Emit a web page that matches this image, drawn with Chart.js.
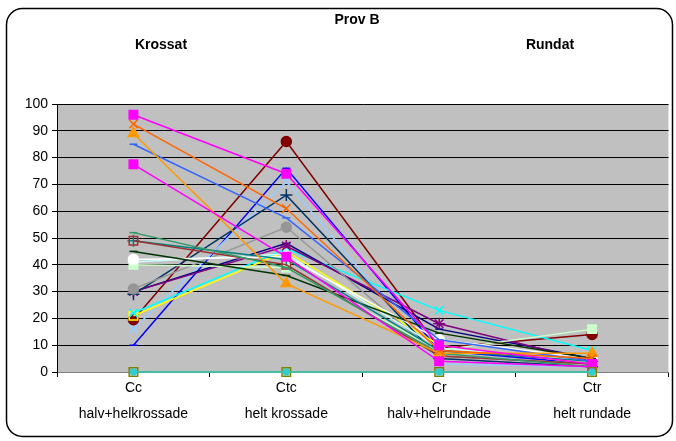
<!DOCTYPE html>
<html>
<head>
<meta charset="utf-8">
<script src="https://cdn.jsdelivr.net/npm/chart.js@4"></script>
<style>
  body { margin: 0; background: #fff; }
  #wrap { width: 676px; height: 441px; }
</style>
</head>
<body>
<div id="wrap"><canvas id="chart" width="676" height="441"></canvas></div>
<script>
const categories = [["Cc", "halv+helkrossade"], ["Ctc", "helt krossade"], ["Cr", "halv+helrundade"], ["Ctr", "helt rundade"]];
const yTicks = [0, 10, 20, 30, 40, 50, 60, 70, 80, 90, 100];

// one array per sample: Cc, Ctc, Cr, Ctr
const s01 = [96, 74, 10, 3];
const s02 = [77.5, 43, 4, 2];
const s03 = [92.5, 61, 8, 5];
const s04 = [89, 33, 7, 7];
const s05 = [85, 57.5, 12, 4];
const s06 = [52, 39, 7, 2];
const s07 = [49, 40, 6, 3];
const s08 = [49, 42, 8, 4];
const s09 = [45, 36, 14.5, 5];
const s10 = [42, 43, 12, 5];
const s11 = [40, 39, 8, 16];
const s12 = [41, 44, 9, 4];
const s13 = [31, 54, 6, 3];
const s14 = [29, 66, 5, 2];
const s15 = [30, 47, 18, 4];
const s16 = [30, 48, 16, 5];
const s17 = [22, 46, 23, 8];
const s18 = [21, 45, 10, 3];
const s19 = [19.5, 86, 9, 14];
const s20 = [16, 71, 3, 2];
const s21 = [10, 76, 8, 3];
const s22 = [0, 0, 0, 0];
const s23 = [0, 0, 0, 0];

// chart.js paints the first dataset on top
const series = [
  { data: s22, color: "#33CCCC", style: "circle", fill: true, r: 3 },
  { data: s23, color: "#808000", style: "rect", fill: false, r: 6 },
  { data: s01, color: "#FF00FF", style: "rect", fill: true, r: 6 },
  { data: s02, color: "#FF00FF", style: "rect", fill: true, r: 6 },
  { data: s03, color: "#FF6600", style: "crossRot", fill: false, r: 6 },
  { data: s04, color: "#FF9900", style: "triangle", fill: true, r: 6 },
  { data: s05, color: "#3366FF", style: "line", fill: true, r: 4 },
  { data: s06, color: "#339966", style: "line", fill: true, r: 4 },
  { data: s07, color: "#993333", style: "rect", fill: false, r: 6 },
  { data: s08, color: "#008080", style: "cross", fill: false, r: 6 },
  { data: s09, color: "#003300", style: "line", fill: true, r: 4 },
  { data: s10, color: "#FFFFFF", style: "circle", fill: true, r: 5 },
  { data: s11, color: "#CCFFCC", style: "rect", fill: true, r: 6 },
  { data: s12, color: "#CCFFFF", style: "rectRot", fill: true, r: 5 },
  { data: s13, color: "#969696", style: "circle", fill: true, r: 5 },
  { data: s14, color: "#003366", style: "cross", fill: false, r: 6 },
  { data: s15, color: "#800080", style: "star", fill: false, r: 6 },
  { data: s16, color: "#000080", style: "line", fill: true, r: 4 },
  { data: s17, color: "#00FFFF", style: "crossRot", fill: false, r: 6 },
  { data: s18, color: "#FFFF00", style: "rect", fill: false, r: 6 },
  { data: s19, color: "#800000", style: "circle", fill: true, r: 5 },
  { data: s20, color: "#99CCFF", style: "crossRot", fill: false, r: 6 },
  { data: s21, color: "#0000FF", style: "line", fill: true, r: 4 }
];

const frame = {
  id: "frame",
  beforeDraw(chart) {
    const { ctx, chartArea: a } = chart;
    ctx.save();
    ctx.fillStyle = "#C0C0C0";
    ctx.fillRect(a.left, a.top, a.right - a.left, a.bottom - a.top);
    ctx.restore();
  },
  afterDraw(chart) {
    const ctx = chart.ctx;
    ctx.save();
    ctx.strokeStyle = "#000";
    ctx.lineWidth = 1.5;
    ctx.beginPath();
    ctx.roundRect(6.5, 8.5, 666, 428, 16);
    ctx.stroke();
    ctx.fillStyle = "#000";
    ctx.font = "bold 14px 'Liberation Sans', Arial, sans-serif";
    ctx.textAlign = "center";
    ctx.textBaseline = "middle";
    ctx.fillText("Prov B", 357, 20);
    ctx.fillText("Krossat", 161, 45);
    ctx.fillText("Rundat", 550, 45);
    ctx.restore();
  }
};

new Chart(document.getElementById("chart"), {
  type: "line",
  data: {
    labels: categories,
    datasets: series.map((s, i) => ({
      label: "Prov " + (i + 1),
      data: s.data,
      borderColor: s.color,
      backgroundColor: s.fill ? s.color : "rgba(0,0,0,0)",
      borderWidth: 1.5,
      pointStyle: s.style,
      pointRadius: s.r,
      pointBorderWidth: 1.5,
      pointBorderColor: s.color,
      pointBackgroundColor: s.fill ? s.color : "rgba(0,0,0,0)",
      tension: 0,
      clip: false
    }))
  },
  options: {
    responsive: false,
    animation: false,
    layout: { padding: { left: 0, right: 4, top: 104, bottom: 9 } },
    plugins: { legend: { display: false }, tooltip: { enabled: false } },
    scales: {
      x: {
        offset: true,
        grid: { offset: true, drawOnChartArea: false, tickLength: 5, color: "#000" },
        border: { color: "#808080", width: 1 },
        ticks: {
          color: "#000",
          maxRotation: 0,
          padding: -1,
          font: { family: "'Liberation Sans', Arial, sans-serif", size: 14, lineHeight: 1.8 }
        },
        afterFit(scale) { scale.height = 60; }
      },
      y: {
        min: 0,
        max: 100,
        afterBuildTicks(scale) { scale.ticks = yTicks.map(v => ({ value: v })); },
        grid: { color: "#000", tickLength: 5 },
        border: { color: "#000", width: 1 },
        ticks: {
          color: "#000",
          padding: 4,
          font: { family: "'Liberation Sans', Arial, sans-serif", size: 14 }
        },
        afterFit(scale) { scale.width = 57; }
      }
    }
  },
  plugins: [frame]
});
</script>
</body>
</html>
